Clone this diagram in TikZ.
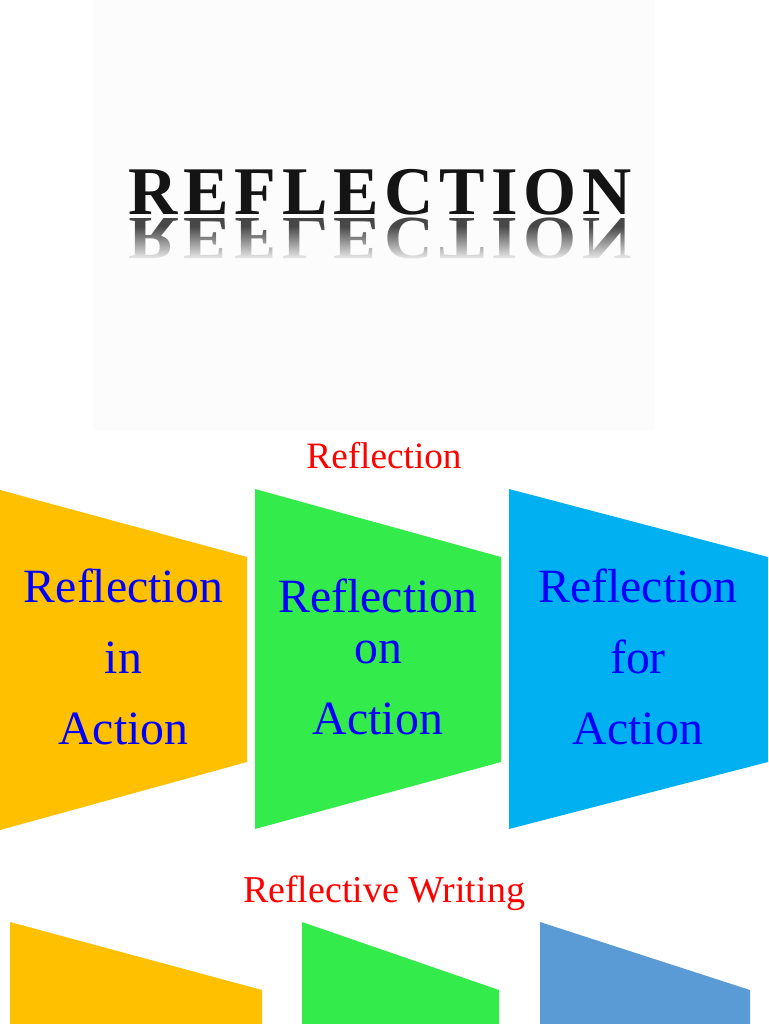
\documentclass[tikz,border=0pt]{standalone}
\usepackage{fontspec}
\setmainfont{Liberation Serif}
\usepackage{graphicx}
\usetikzlibrary{fadings}
\definecolor{borange}{RGB}{255,192,0}
\definecolor{bgreen}{RGB}{51,235,74}
\definecolor{bblue}{RGB}{0,176,240}
\definecolor{bsteel}{RGB}{91,155,213}
\definecolor{logobg}{RGB}{252,252,252}
\definecolor{txtblue}{RGB}{0,0,255}
\definecolor{txtred}{RGB}{255,0,0}
\tikzfading[name=reflfade, top color=transparent!100, bottom color=transparent!0]
\newcommand\lsp{\kern3.3pt}
\newcommand\logoword{R\lsp E\lsp F\lsp L\lsp E\lsp C\lsp T\lsp I\lsp O\lsp N}
\tikzset{
  logotext/.style={inner sep=0pt, font={\fontsize{38.8}{40}\selectfont\bfseries}},
  boxtext/.style={text=txtblue, align=center, inner sep=0pt, font={\fontsize{27.2}{40.5}\selectfont}},
  titletext/.style={text=txtred, inner sep=0pt, anchor=base}
}
\begin{document}
\begin{tikzpicture}[x=0.02cm,y=-0.02cm]
\useasboundingbox (0,0) rectangle (768,1024);
\fill[white] (0,0) rectangle (768,1024);
% logo picture
\fill[logobg] (93,0) rectangle (655,430);
\node[logotext, anchor=base, text={black!92}] (logo) at (380,214) {\logoword};
\node[logotext, anchor=north, text={black!72}] (mirror) at (380,218) {\scalebox{1}[-0.9]{\logoword}};
\fill[logobg, path fading=reflfade] (110,226) rectangle (650,262);
% titles
\node[titletext, font={\fontsize{21.2}{24}\selectfont}] (title1) at (384,468) {Reflection};
\node[titletext, font={\fontsize{21.6}{24}\selectfont}] (title2) at (384,902) {Reflective Writing};
% first row shapes
\fill[borange] (0,490) -- (247,557) -- (247,762) -- (0,830) -- cycle;
\fill[bgreen] (255,489) -- (501,557) -- (501,762) -- (255,829) -- cycle;
\fill[bblue] (509,489) -- (768,557) -- (768,762) -- (509,829) -- cycle;
\node[boxtext] (inaction) at (123.5,657.2) {Reflection\\in\\Action};
\node[boxtext] (onaction) at (378,657.2) {Reflection\\[-11.6pt]on\\Action};
\node[boxtext] (foraction) at (638,657.2) {Reflection\\for\\Action};
% second row shapes
\fill[borange] (10,922) -- (262,990) -- (262,1024) -- (10,1024) -- cycle;
\fill[bgreen] (302,922) -- (499,990) -- (499,1024) -- (302,1024) -- cycle;
\fill[bsteel] (540,922) -- (750,990) -- (750,1024) -- (540,1024) -- cycle;
\end{tikzpicture}
\end{document}
